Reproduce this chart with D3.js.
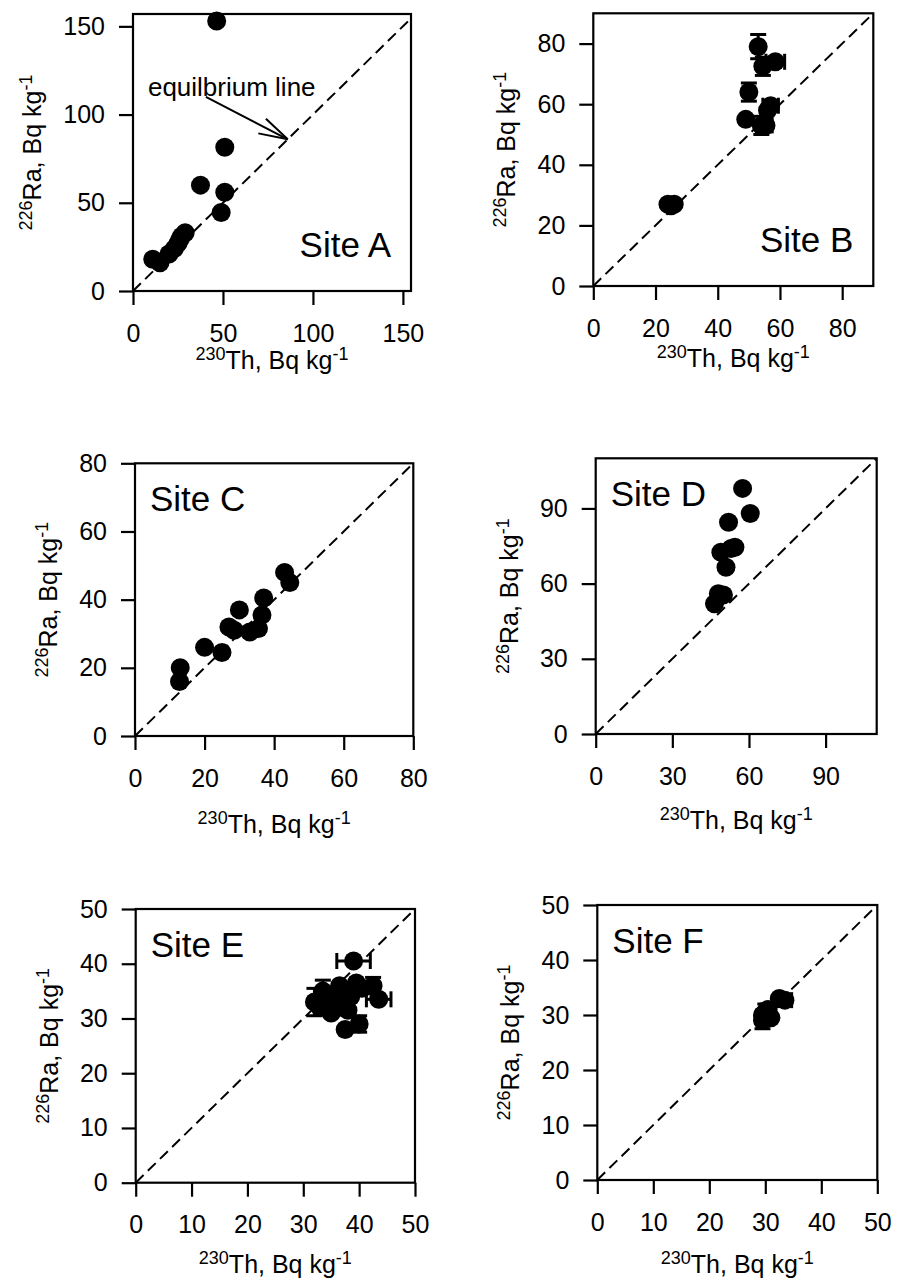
<!DOCTYPE html>
<html><head><meta charset="utf-8">
<script src="https://cdn.jsdelivr.net/npm/d3@7"></script>
<style>
html,body{margin:0;padding:0;background:#fff;}
svg{display:block;background:#fff;}
text{font-family:"Liberation Sans",Arial,Helvetica,sans-serif;fill:#000;}
</style></head><body>
<svg id="chart" width="898" height="1286"></svg>
<script>
// ---------- data ----------
const siteNames = ["Site A","Site B","Site C","Site D","Site E","Site F"];
const axisMaxX = [154.5, 90, 80, 110, 50, 50];
const axisMaxY = [157, 90, 80, 110, 50, 50];
const tickValues = [[0,50,100,150],[0,20,40,60,80],[0,20,40,60,80],[0,30,60,90],[0,10,20,30,40,50],[0,10,20,30,40,50]];

const thA = [46.5, 51, 37.5, 51, 49, 11, 15, 20, 23, 25, 27, 29, 26];
const raA = [153, 81.5, 60, 56, 44.5, 18, 16, 21, 24, 27, 31, 33, 29];

const thB = [24, 26, 25, 53, 54.5, 58.5, 50, 49, 54, 55.5, 56, 57];
const raB = [27, 27, 26.5, 79, 72.5, 74, 64, 55, 53, 53, 58, 59.5];
const thErrB = [0, 0, 0, 0, 0, 3, 0, 0, 0, 2, 0, 2.5];
const raErrB = [0, 0, 0, 4, 3, 0, 3, 0, 3, 0, 0, 0];

const thC = [13, 12.8, 20, 25, 27, 28.5, 30, 33, 35.5, 36.5, 37, 43, 44.5];
const raC = [20, 16, 26, 24.5, 32, 31, 37, 30.5, 31.5, 35.5, 40.5, 48, 45];

const thD = [57.5, 60.5, 52, 49, 53, 54.5, 51, 48, 46.5, 50];
const raD = [98, 88, 84.5, 72.5, 74, 74.5, 66.5, 56, 52, 55.5];

const thE = [39, 42.5, 43.5, 32, 33.5, 35, 36.5, 38, 39.5, 35, 37, 38.5, 37.5, 40, 34.5, 33, 36, 40.5, 38];
const raE = [40.5, 36, 33.5, 33, 35, 34, 36, 35, 36.5, 31, 32, 34, 28, 29, 32, 32, 33.5, 35.5, 31.5];
const thErrE = [3, 0, 2.2, 0, 0, 0, 0, 0, 0, 0, 0, 0, 0, 0, 0, 0, 0, 0, 0];
const raErrE = [0, 1.5, 0, 2.5, 2, 0, 0, 0, 0, 0, 0, 0, 0, 1.5, 0, 0, 0, 0, 0];

const thF = [33.5, 32.5, 30, 29.5, 31, 30.5, 29.5];
const raF = [32.7, 33, 30.5, 29, 29.5, 31, 30];
const thErrF = [1.2, 0, 0, 0, 0, 0, 0];
const raErrF = [0, 0, 1.5, 1.5, 0, 1, 0];

const eqLabel = "equilbrium line";
const eqLabelPos = [8.3, 110.5];
const eqArrowFrom = [40.5, 110];
const eqArrowTo = [86, 86];

const seriesTh = [thA, thB, thC, thD, thE, thF];
const seriesRa = [raA, raB, raC, raD, raE, raF];
const seriesThErr = [[], thErrB, [], [], thErrE, thErrF];
const seriesRaErr = [[], raErrB, [], [], raErrE, raErrF];

// ---------- layout ----------
const layout = [
  {left:133,   right:411,   top:14,    bottom:291,    xLabDy:78, site:"br"},
  {left:593.3, right:873.3, top:13.3,  bottom:286,    xLabDy:81, site:"br"},
  {left:135,   right:413.3, top:463.3, bottom:736,    xLabDy:97, site:"tl"},
  {left:595.7, right:876.7, top:458.3, bottom:734,    xLabDy:95, site:"tl"},
  {left:135.7, right:415,   top:909,   bottom:1182.7, xLabDy:90, site:"tl"},
  {left:597.3, right:877.3, top:905,   bottom:1180,   xLabDy:93, site:"tl"}
];

const svg = d3.select("#chart");
const R = 9.5;

layout.forEach((L, i) => {
  const g = svg.append("g");
  const x = d3.scaleLinear().domain([0, axisMaxX[i]]).range([L.left, L.right]);
  const y = d3.scaleLinear().domain([0, axisMaxY[i]]).range([L.bottom, L.top]);
  const m = Math.min(axisMaxX[i], axisMaxY[i]);

  // equilibrium (1:1) line
  g.append("line")
    .attr("x1", x(0)).attr("y1", y(0)).attr("x2", x(m)).attr("y2", y(m))
    .attr("stroke", "#000").attr("stroke-width", 2).attr("stroke-dasharray", "11,6");

  const pts = seriesTh[i].map((t, k) => ({
    th: t, ra: seriesRa[i][k],
    te: seriesThErr[i][k] || 0, re: seriesRaErr[i][k] || 0
  }));

  // error bars
  const eb = g.append("g").attr("stroke", "#000").attr("stroke-width", 3);
  const cap = 8;
  pts.forEach(p => {
    if (p.te > 0) {
      eb.append("line").attr("x1", x(p.th - p.te)).attr("x2", x(p.th + p.te)).attr("y1", y(p.ra)).attr("y2", y(p.ra));
      [p.th - p.te, p.th + p.te].forEach(v => eb.append("line").attr("x1", x(v)).attr("x2", x(v)).attr("y1", y(p.ra) - cap).attr("y2", y(p.ra) + cap));
    }
    if (p.re > 0) {
      eb.append("line").attr("y1", y(p.ra - p.re)).attr("y2", y(p.ra + p.re)).attr("x1", x(p.th)).attr("x2", x(p.th));
      [p.ra - p.re, p.ra + p.re].forEach(v => eb.append("line").attr("y1", y(v)).attr("y2", y(v)).attr("x1", x(p.th) - cap).attr("x2", x(p.th) + cap));
    }
  });

  // points
  g.selectAll("circle.pt").data(pts).join("circle")
    .attr("class", "pt")
    .attr("cx", d => x(d.th)).attr("cy", d => y(d.ra)).attr("r", R)
    .attr("fill", "#000");

  // frame
  g.append("rect")
    .attr("x", L.left).attr("y", L.top)
    .attr("width", L.right - L.left).attr("height", L.bottom - L.top)
    .attr("fill", "none").attr("stroke", "#000").attr("stroke-width", 2.2);

  // axes
  const xa = g.append("g").attr("transform", `translate(0,${L.bottom})`)
    .call(d3.axisBottom(x).tickValues(tickValues[i]).tickSize(14).tickPadding(19).tickSizeOuter(0).tickFormat(d3.format("d")));
  const ya = g.append("g").attr("transform", `translate(${L.left},0)`)
    .call(d3.axisLeft(y).tickValues(tickValues[i]).tickSize(14).tickPadding(14).tickSizeOuter(0).tickFormat(d3.format("d")));
  [xa, ya].forEach(a => {
    a.select(".domain").remove();
    a.selectAll(".tick line").attr("stroke", "#000").attr("stroke-width", 2.2);
    a.selectAll(".tick text").attr("font-size", 25).attr("fill", "#000")
      .style("font-family", '"Liberation Sans",Arial,sans-serif');
  });

  // y label
  const yb = ya.node().getBBox();
  const yLabX = L.left + yb.x - 22;
  const yl = g.append("text")
    .attr("transform", `translate(${yLabX},${(L.top + L.bottom) / 2}) rotate(-90)`)
    .attr("text-anchor", "middle");
  yl.append("tspan").attr("font-size", 18).attr("dy", -9).text("226");
  yl.append("tspan").attr("font-size", 25).attr("dy", 9).text("Ra, Bq kg");
  yl.append("tspan").attr("font-size", 18).attr("dy", -9).text("-1");

  // x label
  const xl = g.append("text")
    .attr("x", (L.left + L.right) / 2).attr("y", L.bottom + L.xLabDy)
    .attr("text-anchor", "middle");
  xl.append("tspan").attr("font-size", 18).attr("dy", -9).text("230");
  xl.append("tspan").attr("font-size", 25).attr("dy", 9).text("Th, Bq kg");
  xl.append("tspan").attr("font-size", 18).attr("dy", -9).text("-1");

  // site label
  const st = g.append("text").attr("font-size", 35).text(siteNames[i]);
  if (L.site === "br") {
    st.attr("x", L.right - 20).attr("y", L.bottom - 34).attr("text-anchor", "end");
  } else {
    st.attr("x", L.left + 15).attr("y", L.top + 48).attr("text-anchor", "start");
  }

  // equilibrium annotation (panel A)
  if (i === 0) {
    g.append("text").attr("x", x(eqLabelPos[0])).attr("y", y(eqLabelPos[1]))
      .attr("font-size", 26).text(eqLabel);
    const x1 = x(eqArrowFrom[0]), y1 = y(eqArrowFrom[1]);
    const x2 = x(eqArrowTo[0]), y2 = y(eqArrowTo[1]);
    g.append("line").attr("x1", x1).attr("y1", y1).attr("x2", x2).attr("y2", y2)
      .attr("stroke", "#000").attr("stroke-width", 2);
    const ang = Math.atan2(y1 - y2, x1 - x2);
    const hl = 30, spread = 16 * Math.PI / 180;
    [ang - spread, ang + spread].forEach(a => {
      g.append("line").attr("x1", x2).attr("y1", y2)
        .attr("x2", x2 + hl * Math.cos(a)).attr("y2", y2 + hl * Math.sin(a))
        .attr("stroke", "#000").attr("stroke-width", 2);
    });
  }
});
</script>
</body></html>
